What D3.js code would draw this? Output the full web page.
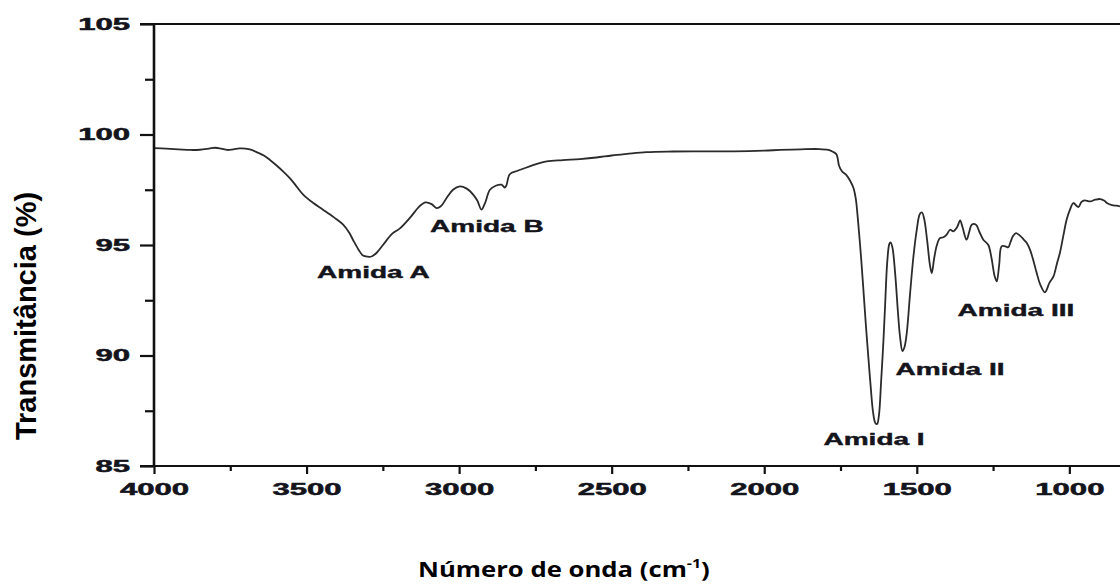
<!DOCTYPE html>
<html>
<head>
<meta charset="utf-8">
<script src="https://cdn.jsdelivr.net/npm/d3@7/dist/d3.min.js"></script>
<style>
  html, body { margin: 0; padding: 0; background: #fff; }
  svg { display: block; }
</style>
</head>
<body>
<svg id="chart" width="1120" height="585"></svg>
<script>
// FTIR spectrum: wavenumber (cm-1) vs transmittance (%)
const wavenumber = [
  4000, 3960, 3920, 3880, 3850, 3820, 3800, 3780, 3760, 3740, 3720, 3700, 3680, 3660, 3640, 3620,
  3600, 3577, 3550, 3530, 3511, 3480, 3446, 3410, 3380, 3360, 3348, 3330, 3315, 3300, 3287, 3270,
  3249, 3220, 3194, 3160, 3130, 3110, 3090, 3074, 3060, 3040, 3020, 2998, 2975, 2954, 2940, 2927,
  2915, 2899, 2880, 2861, 2850, 2845, 2834, 2810, 2790, 2760, 2713, 2660, 2604, 2550, 2500, 2450,
  2386, 2300, 2200, 2100, 2000, 1949, 1880, 1820, 1790, 1775, 1763, 1755, 1746, 1730, 1719, 1708,
  1700, 1692, 1683, 1675, 1667, 1659, 1650, 1643, 1636, 1630, 1624, 1617, 1610, 1604, 1597, 1590,
  1586, 1580, 1571, 1562, 1555, 1547, 1540, 1533, 1522, 1511, 1500, 1490, 1483, 1476, 1466, 1457,
  1451, 1443, 1435, 1425, 1413, 1402, 1391, 1380, 1368, 1358, 1350, 1337, 1328, 1320, 1306, 1295,
  1282, 1266, 1255, 1245, 1238, 1230, 1222, 1210, 1200, 1194, 1185, 1175, 1160, 1151, 1140, 1129,
  1118, 1107, 1095, 1080, 1065, 1052, 1040, 1031, 1020, 1009, 998, 987, 975, 970, 960, 950,
  932, 915, 899, 885, 877, 860, 845, 834
];
const transmittance = [
  99.38, 99.36, 99.33, 99.30, 99.31, 99.36, 99.40, 99.36, 99.30, 99.33, 99.37, 99.36, 99.30, 99.18, 99.05, 98.85,
  98.62, 98.33, 97.95, 97.60, 97.28, 96.92, 96.60, 96.25, 95.92, 95.55, 95.24, 94.80, 94.52, 94.47, 94.48, 94.65,
  95.01, 95.50, 95.75, 96.25, 96.75, 96.93, 96.85, 96.67, 96.75, 97.15, 97.50, 97.65, 97.55, 97.28, 97.00, 96.60,
  96.90, 97.50, 97.68, 97.73, 97.60, 97.70, 98.20, 98.35, 98.45, 98.60, 98.78, 98.84, 98.89, 98.96, 99.05, 99.12,
  99.20, 99.23, 99.24, 99.24, 99.27, 99.30, 99.33, 99.34, 99.30, 99.22, 99.10, 98.60, 98.35, 98.15, 97.92, 97.60,
  97.10, 96.00, 94.50, 92.98, 91.40, 89.96, 88.40, 87.40, 86.95, 86.90, 87.30, 88.80, 90.50, 92.22, 94.20, 95.05,
  95.12, 94.90, 93.73, 92.00, 90.86, 90.20, 90.40, 91.00, 92.80, 94.48, 95.70, 96.40, 96.47, 96.20, 95.20, 94.10,
  93.73, 94.40, 94.95, 95.30, 95.35, 95.47, 95.69, 95.62, 95.80, 96.11, 95.80, 95.24, 95.60, 95.92, 95.92, 95.60,
  95.24, 95.01, 94.40, 93.60, 93.35, 94.10, 94.94, 94.94, 94.90, 95.09, 95.40, 95.54, 95.40, 95.27, 95.10, 94.79,
  94.30, 93.73, 93.20, 92.86, 93.30, 93.58, 94.20, 94.64, 95.40, 96.14, 96.60, 96.90, 96.75, 96.72, 96.95, 97.02,
  96.97, 97.05, 97.08, 97.00, 96.90, 96.80, 96.78, 96.75
];

// Axis ticks
const xTicks = [4000, 3500, 3000, 2500, 2000, 1500, 1000];
const xMinorTicks = [3750, 3250, 2750, 2250, 1750, 1250];
const yTicks = [85, 90, 95, 100, 105];
const yMinorTicks = [87.5, 92.5, 97.5, 102.5];

// Band annotations (anchored in data units: label centre wavenumber, baseline transmittance)
const bandNames = ["Amida A", "Amida B", "Amida I", "Amida II", "Amida III"];
const bandWn = [3281, 2909, 1640, 1391, 1175];
const bandT = [93.51, 95.59, 85.95, 89.12, 91.79];

const svg = d3.select("#chart");

const x = d3.scaleLinear().domain([4000, 834]).range([154, 1120]);
const y = d3.scaleLinear().domain([85, 105]).range([466, 24]);

const tickFont = "'Liberation Sans', Arial, sans-serif";
const stretch = 1.94;     // wide tick numerals
const labelStretch = 1.75;

// Clip for the spectrum
svg.append("defs").append("clipPath").attr("id", "plot-clip")
  .append("rect").attr("x", 154).attr("y", 20).attr("width", 966).attr("height", 450);

// Spectrum line
const points = wavenumber.map((w, i) => [w, transmittance[i]]);
const line = d3.line()
  .x(d => x(d[0]))
  .y(d => y(d[1]))
  .curve(d3.curveCatmullRom.alpha(0.5));

svg.append("path")
  .datum(points)
  .attr("clip-path", "url(#plot-clip)")
  .attr("fill", "none")
  .attr("stroke", "#2b2b2b")
  .attr("stroke-width", 1.8)
  .attr("stroke-linejoin", "round")
  .attr("d", line);

// Top frame line
svg.append("line")
  .attr("x1", 140).attr("x2", 1120)
  .attr("y1", y(105)).attr("y2", y(105))
  .attr("stroke", "#111").attr("stroke-width", 2.2);

// Bottom axis (major)
const xAxis = d3.axisBottom(x).tickValues(xTicks).tickSize(8).tickPadding(10).tickFormat(d3.format("d"));
const gx = svg.append("g").attr("transform", `translate(0,${y(85)})`).call(xAxis);
gx.select(".domain").remove();
gx.selectAll(".tick line").attr("stroke", "#111").attr("stroke-width", 2.2);

// Bottom axis (minor)
const xMinor = d3.axisBottom(x).tickValues(xMinorTicks).tickSize(5).tickFormat("");
const gxm = svg.append("g").attr("transform", `translate(0,${y(85)})`).call(xMinor);
gxm.select(".domain").remove();
gxm.selectAll(".tick line").attr("stroke", "#111").attr("stroke-width", 2.2);

svg.append("line")
  .attr("x1", 140).attr("x2", 1120)
  .attr("y1", y(85)).attr("y2", y(85))
  .attr("stroke", "#111").attr("stroke-width", 2.2);

// Left axis (major)
const yAxis = d3.axisLeft(y).tickValues(yTicks).tickSize(14).tickPadding(10).tickFormat(d3.format("d"));
const gy = svg.append("g").attr("transform", `translate(${x(4000)},0)`).call(yAxis);
gy.select(".domain").remove();
gy.selectAll(".tick line").attr("stroke", "#111").attr("stroke-width", 2.2);

// Left axis (minor)
const yMinor = d3.axisLeft(y).tickValues(yMinorTicks).tickSize(9).tickFormat("");
const gym = svg.append("g").attr("transform", `translate(${x(4000)},0)`).call(yMinor);
gym.select(".domain").remove();
gym.selectAll(".tick line").attr("stroke", "#111").attr("stroke-width", 2.2);

svg.append("line")
  .attr("x1", x(4000)).attr("x2", x(4000))
  .attr("y1", y(105) - 1).attr("y2", y(85) + 1)
  .attr("stroke", "#111").attr("stroke-width", 2.6);

// Heavy, widened numerals
svg.selectAll(".tick text")
  .attr("fill", "#14141c")
  .attr("stroke", "#14141c").attr("stroke-width", 0.5)
  .style("font-family", tickFont).style("font-weight", "bold").style("font-size", "16px")
  .each(function () {
    const w = this.getComputedTextLength();
    d3.select(this).attr("textLength", w * stretch).attr("lengthAdjust", "spacingAndGlyphs");
  });

// Band labels
svg.append("g").selectAll("text")
  .data(bandNames)
  .join("text")
  .attr("x", (d, i) => x(bandWn[i]))
  .attr("y", (d, i) => y(bandT[i]))
  .attr("text-anchor", "middle")
  .attr("fill", "#14141c")
  .attr("stroke", "#14141c").attr("stroke-width", 0.4)
  .style("font-family", tickFont).style("font-weight", "bold").style("font-size", "16px")
  .text(d => d)
  .each(function () {
    const w = this.getComputedTextLength();
    d3.select(this).attr("textLength", w * labelStretch).attr("lengthAdjust", "spacingAndGlyphs");
  });

// Y-axis title
svg.append("text")
  .attr("transform", "translate(36,316) rotate(-90)")
  .attr("text-anchor", "middle")
  .attr("fill", "#000")
  .style("font-family", tickFont).style("font-weight", "bold").style("font-size", "29px")
  .text("Transmitância (%)");

// X-axis title with superscript, fitted to its slot width
const xTitleWidth = 292;
const xt = svg.append("text")
  .attr("x", 0).attr("y", 0)
  .attr("fill", "#000")
  .style("font-family", "'Open Sans', sans-serif").style("font-weight", "bold").style("font-size", "21px");
xt.append("tspan").text("Número de onda (cm");
xt.append("tspan").attr("dy", -9).style("font-size", "13px").text("-1");
xt.append("tspan").attr("dy", 9).text(")");
const bb = xt.node().getBBox();
const sx = xTitleWidth / bb.width;
xt.attr("transform", `translate(${564 - (bb.x + bb.width / 2) * sx},577) scale(${sx},1)`);
</script>
</body>
</html>
